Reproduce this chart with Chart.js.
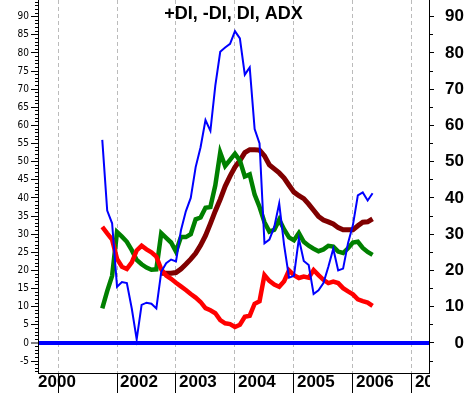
<!DOCTYPE html>
<html>
<head>
<meta charset="utf-8">
<script src="https://cdn.jsdelivr.net/npm/chart.js@4.4.1/dist/chart.umd.min.js"></script>
<style>
  body { margin: 0; background: #fff; }
</style>
</head>
<body>
<canvas id="chart" width="467" height="393"></canvas>
<script>
const chartTitle = '+DI, -DI, DI, ADX';

const months = [
    '2001-10', '2001-11', '2001-12',
    '2002-01', '2002-02', '2002-03', '2002-04', '2002-05', '2002-06', '2002-07', '2002-08', '2002-09', '2002-10', '2002-11', '2002-12',
    '2003-01', '2003-02', '2003-03', '2003-04', '2003-05', '2003-06', '2003-07', '2003-08', '2003-09', '2003-10', '2003-11', '2003-12',
    '2004-01', '2004-02', '2004-03', '2004-04', '2004-05', '2004-06', '2004-07', '2004-08', '2004-09', '2004-10', '2004-11', '2004-12',
    '2005-01', '2005-02', '2005-03', '2005-04', '2005-05', '2005-06', '2005-07', '2005-08', '2005-09', '2005-10', '2005-11', '2005-12',
    '2006-01', '2006-02', '2006-03', '2006-04', '2006-05'
];

const plusDI = [56, 36.5, 33, 15.5, 16.8, 16.5, 9.5, 1, 10.5, 11.1, 10.8, 9.5, 19.6, 22, 23, 22.5, 31, 36.3, 40, 48.5,
    54, 61.5, 58.5, 71, 80.3, 81.5, 82.5, 86, 84, 74, 76, 59, 55, 27.5, 28.5, 32, 38.5, 27, 18, 18.5,
    28.8, 22.6, 21.5, 13.5, 14.5, 16.5, 21, 26, 20, 20.5, 27.5, 32.5, 40.7, 41.5, 39.3, 41.3];

const minusDI = [32, 30.2, 28.5, 23.2, 21, 20.4, 22.2, 25.5, 26.8, 25.8, 25, 23.8, 20.3, 18.6, 17.7, 16.6, 15.6, 14.6, 13.5, 12.5,
    11.3, 9.6, 9, 8.2, 6.3, 5.4, 5.2, 4.4, 5, 7.2, 7.5, 10.8, 11.5, 18.7, 17.1, 16.1, 15.5, 17, 20, 18.7,
    17.9, 18.3, 18, 20.1, 18.7, 17.4, 16.5, 16.9, 16.5, 15.1, 14.2, 13.4, 12, 11.5, 11.1, 10.2];

const dxValues = [9.5, 14.3, 18.5, 30.6, 29.3, 27.9, 25.6, 22.9, 21.7, 20.8, 20.2, 20.3, 30.3, 29, 27.7, 25.2, 29.2, 29.2, 30, 34.1,
    34.6, 37.3, 37.5, 43.5, 52.5, 48.8, 50.5, 52.2, 50.3, 45.9, 46.5, 40.9, 37.5, 33.3, 30.7, 31.2, 34, 31.3, 29.1, 28.3,
    30.3, 27.9, 26.8, 26, 25.3, 25.8, 26.8, 26.6, 25.2, 24.8, 26.1, 27.7, 27.9, 26.2, 25.1, 24.3];

const adxValues = [null, null, null, null, null, null, null, null, null, null, null, null,
    19.2, 19.2, 19.2, 19.4, 20.4, 21.7, 23.1, 24.7, 26.9, 29.6, 32.9, 36.4, 39.6, 43.2, 46, 48.5, 50.3, 52.5,
    53.3, 53.3, 53.2, 51.6, 49.1, 48, 46.9, 45.5, 43.5, 41.6, 40.6, 39.8, 38.3, 36.6, 34.9, 33.9, 33.4, 32.8,
    31.8, 31.2, 31.2, 31.2, 32.3, 33.3, 33.4, 34.2];

// year ticks; the first one sits on the left edge like in the original
const xTickValues = [2000.61, 2001, 2002, 2003, 2004, 2005, 2006, 2007];
const xTickLabels = ['2000', '', '2002', '2003', '2004', '2005', '2006', '2007'];

const xMin = 2000.66, xMax = 2007.29;
const yMin = -8.3, yMax = 94.6;

function toYear(m) {
    const [y, mo] = m.split('-').map(Number);
    return y + (mo - 1) / 12;
}

function series(values) {
    return values.map((v, i) => ({ x: toYear(months[i]), y: v }));
}

function stepTicks(from, to, step) {
    const t = [];
    for (let v = from; v <= to; v += step) t.push({ value: v });
    return t;
}

// fixed axis sizes, no extra room for overhanging labels
function fixSize(prop, size) {
    return s => {
        s[prop] = size;
        s.paddingTop = 0;
        s.paddingBottom = 0;
        s.paddingLeft = 0;
        s.paddingRight = 0;
    };
}

const innerTitle = {
    id: 'innerTitle',
    afterDraw(chart) {
        const { ctx, chartArea } = chart;
        ctx.save();
        // year labels are cut at the right axis in the original
        ctx.fillStyle = '#fff';
        ctx.fillRect(chartArea.right + 1, chartArea.bottom + 1, chart.width - chartArea.right, chart.height - chartArea.bottom);
        ctx.fillStyle = '#000';
        ctx.font = 'bold 18px Arial';
        ctx.textAlign = 'center';
        ctx.textBaseline = 'middle';
        ctx.fillText(chartTitle, (chartArea.left + chartArea.right) / 2, 14);
        ctx.restore();
    }
};

const lineStyle = { pointRadius: 0, tension: 0, fill: false };

new Chart(document.getElementById('chart'), {
    type: 'line',
    data: {
        datasets: [
            { label: '+DI', data: series(plusDI), borderColor: '#0000ff', borderWidth: 2, ...lineStyle },
            { label: '-DI', data: series(minusDI), borderColor: '#ff0000', borderWidth: 4.5, ...lineStyle },
            { label: 'DI', data: series(dxValues), borderColor: '#008000', borderWidth: 4.5, ...lineStyle },
            { label: 'ADX', data: series(adxValues), borderColor: '#800000', borderWidth: 5, ...lineStyle }
        ]
    },
    options: {
        responsive: false,
        animation: false,
        layout: { padding: { left: 0, right: 3, top: 0, bottom: 0 } },
        plugins: {
            legend: { display: false },
            tooltip: { enabled: false },
            title: { display: false }
        },
        scales: {
            x: {
                type: 'linear',
                min: xMin,
                max: xMax,
                afterBuildTicks: s => { s.ticks = xTickValues.map(v => ({ value: v })); },
                afterFit: fixSize('height', 20),
                ticks: {
                    autoSkip: false, maxRotation: 0, minRotation: 0,
                    align: 'start', labelOffset: 3, padding: -21,
                    color: '#000',
                    font: { family: 'Arial', size: 17, weight: 'bold' },
                    callback: (v, i) => xTickLabels[i]
                },
                grid: {
                    color: c => c.index === 0 ? 'transparent' : '#bbbbbb',
                    tickColor: c => c.index === 0 ? 'transparent' : '#000',
                    tickLength: 20,
                    tickWidth: 1,
                    tickBorderDash: []
                },
                border: { color: '#000', width: 1, dash: [4, 3] }
            },
            y: {
                position: 'left',
                min: yMin,
                max: yMax,
                afterBuildTicks: s => { s.ticks = stepTicks(-8, 94, 1); },
                afterFit: fixSize('width', 38),
                ticks: {
                    autoSkip: false, padding: 2, color: '#000',
                    font: { family: '"Liberation Sans Narrow", "DejaVu Sans Condensed", Arial', size: 10 },
                    callback: v => v % 5 === 0 ? String(v) : ''
                },
                grid: {
                    color: c => c.tick && c.tick.value === 0 ? '#0000ff' : 'transparent',
                    lineWidth: c => c.tick && c.tick.value === 0 ? 4 : 1,
                    tickColor: '#000',
                    tickWidth: 1,
                    tickLength: 7,
                    tickBorderDash: c => c.tick && c.tick.value % 5 !== 0 ? [3, 4] : [],
                    tickBorderDashOffset: c => c.tick && c.tick.value % 5 !== 0 ? 3 : 0
                },
                border: { color: '#000', width: 1 }
            },
            y2: {
                position: 'right',
                min: yMin,
                max: yMax,
                afterBuildTicks: s => { s.ticks = stepTicks(-5, 90, 5); },
                afterFit: fixSize('width', 35),
                ticks: {
                    autoSkip: false, crossAlign: 'far', color: '#000',
                    font: { family: 'Arial', size: 17, weight: 'bold' },
                    callback: v => v % 10 === 0 ? String(v) : ''
                },
                grid: {
                    drawOnChartArea: false,
                    color: '#000',
                    tickLength: 5,
                    tickWidth: 1,
                    tickBorderDash: c => c.tick && c.tick.value % 10 !== 0 ? [3, 10] : []
                },
                border: { color: '#000', width: 1 }
            }
        }
    },
    plugins: [innerTitle]
});
</script>
</body>
</html>
